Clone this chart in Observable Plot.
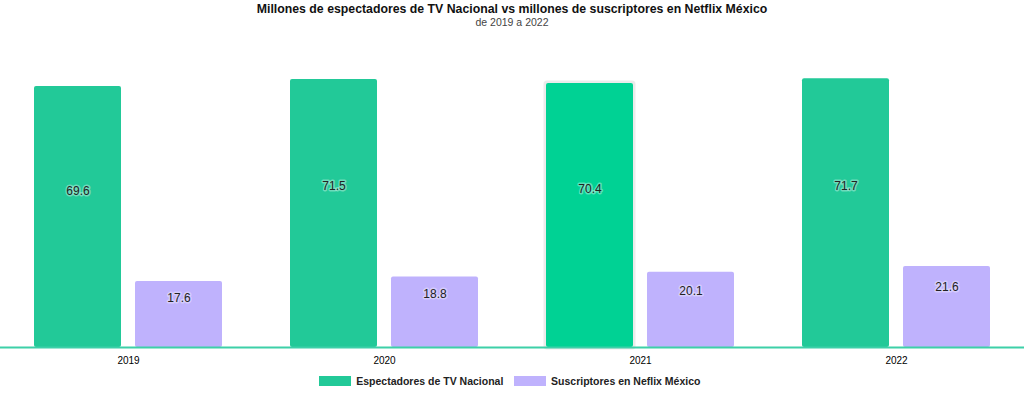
<!DOCTYPE html>
<html><head><meta charset="utf-8">
<script src="https://cdn.jsdelivr.net/npm/d3@7"></script>
<script src="https://cdn.jsdelivr.net/npm/@observablehq/plot@0.6"></script>
<style>
body{margin:0;background:#fff;font-family:"Liberation Sans",Arial,sans-serif;}
#wrap{width:1024px;}
.title{text-align:center;font-weight:bold;font-size:12.3px;color:#111;height:14px;line-height:14px;margin-top:2px;}
.sub{text-align:center;font-size:10.5px;color:#444;height:13px;line-height:13px;}
#legend{display:flex;justify-content:center;margin-top:0px;padding-left:6px;}
#legend > *{margin-top:-1px !important;}
</style></head>
<body><div id="wrap">
<div class="title">Millones de espectadores de TV Nacional vs millones de suscriptores en Netflix México</div>
<div class="sub">de 2019 a 2022</div>
<div id="chart"></div>
<div id="legend"></div>
</div>
<script>
const years = ["2019","2020","2021","2022"];
const seriesNames = ["Espectadores de TV Nacional","Suscriptores en Neflix México"];
const tvValues = [69.6, 71.5, 70.4, 71.7];
const netflixValues = [17.6, 18.8, 20.1, 21.6];
const colors = ["#22c998","#bfb2fd"];
const highlightYear = "2021";

const data = [];
years.forEach((y,i)=>{
  data.push({year:y, series:seriesNames[0], value:tvValues[i]});
  data.push({year:y, series:seriesNames[1], value:netflixValues[i]});
});
const fillOf = d => (d.series===seriesNames[0] && d.year===highlightYear) ? "#00d294" : colors[seriesNames.indexOf(d.series)];
const labelFrac = d => d.series===seriesNames[0] ? 0.6 : 0.75;

const chart = Plot.plot({
  width:1024, height:336,
  marginTop:18, marginBottom:18, marginLeft:0, marginRight:0,
  style:{fontFamily:"Liberation Sans, Arial, sans-serif", background:"#fff"},
  fx:{domain:years, padding:0, label:null, axis:"bottom", tickSize:0, tickPadding:9, fontSize:8},
  x:{domain:seriesNames, paddingInner:0.137, paddingOuter:0.3235, axis:null},
  y:{domain:[0,80], axis:null},
  marks:[
    Plot.barY(data.filter(d=>d.series===seriesNames[0] && d.year===highlightYear),
      {fx:"year", x:"series", y:"value", fill:"none", stroke:"#999", strokeOpacity:0.2, strokeWidth:3, rx:2, inset:-1}),
    Plot.barY(data, {fx:"year", x:"series", y:"value", fill:fillOf, rx:2}),
    Plot.text(data, {fx:"year", x:"series", y:d=>d.value*labelFrac(d), text:d=>d.value.toFixed(1),
      fill:"#222", stroke:"white", strokeOpacity:0.35, strokeWidth:3, fontSize:12}),
    Plot.ruleY([0], {stroke:"#3dd0a8", strokeWidth:2})
  ]
});
document.getElementById("chart").appendChild(chart);

const leg = Plot.legend({color:{type:"ordinal", domain:seriesNames, range:colors},
  swatchWidth:32, swatchHeight:10,
  style:{fontFamily:"Liberation Sans, Arial, sans-serif", fontSize:"10.5px", fontWeight:"bold", color:"#222"}});
document.getElementById("legend").appendChild(leg);
</script>
</body></html>
